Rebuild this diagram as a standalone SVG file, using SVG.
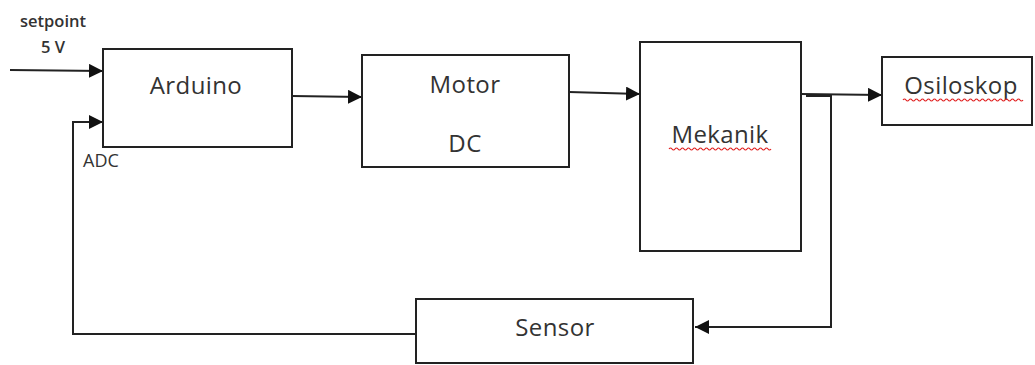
<svg xmlns="http://www.w3.org/2000/svg" width="1035" height="365" viewBox="0 0 1035 365">
<style>
.box{fill:#fff;stroke:#222;stroke-width:2}
.ln{fill:none;stroke:#222;stroke-width:2}
.t{font-family:"Open Sans","Noto Sans",sans-serif;fill:#333;font-size:24px;letter-spacing:0.4px;text-anchor:middle}
.s{font-family:"Open Sans","Noto Sans",sans-serif;fill:#333;font-size:16.5px;font-weight:600;text-anchor:middle}
.sq{fill:none;stroke:#e02020;stroke-width:1.2}
</style>
<defs>
<marker id="ah" viewBox="0 0 10 10" refX="10" refY="5" markerWidth="14" markerHeight="14" markerUnits="userSpaceOnUse" orient="auto">
<path d="M0,0 L10,5 L0,10 z" fill="#111"/>
</marker>
</defs>
<rect width="1035" height="365" fill="#fff"/>
<g id="connectors">
<path class="ln" d="M10,70 L103,71" marker-end="url(#ah)"/>
<path class="ln" d="M416,334 L73,334 L73,122 L103,122" marker-end="url(#ah)"/>
<path class="ln" d="M292,96 L362,97" marker-end="url(#ah)"/>
<path class="ln" d="M569,92 L640,94" marker-end="url(#ah)"/>
<path class="ln" d="M801,94 L882,95" marker-end="url(#ah)"/>
<path class="ln" d="M806,96 L831,96 L831,327 L695,327" marker-end="url(#ah)"/>
</g>
<g id="arduino">
<rect class="box" x="103" y="49" width="189" height="98"/>
<text class="t" x="196" y="94">Arduino</text>
</g>
<g id="motor">
<rect class="box" x="362" y="55" width="207" height="112"/>
<text class="t" x="465" y="93">Motor</text>
<text class="t" x="465" y="152">DC</text>
</g>
<g id="mekanik">
<rect class="box" x="640" y="42" width="161" height="209"/>
<text class="t" x="720" y="143">Mekanik</text>
<path class="sq" d="M669,149 q1.5,-2 3,0 t3,0 t3,0 t3,0 t3,0 t3,0 t3,0 t3,0 t3,0 t3,0 t3,0 t3,0 t3,0 t3,0 t3,0 t3,0 t3,0 t3,0 t3,0 t3,0 t3,0 t3,0 t3,0 t3,0 t3,0 t3,0 t3,0 t3,0 t3,0 t3,0 t3,0 t3,0 t3,0 t3,0"/>
</g>
<g id="osiloskop">
<rect class="box" x="882" y="57" width="150" height="68"/>
<text class="t" x="961" y="94">Osiloskop</text>
<path class="sq" d="M903,100 q1.5,-2 3,0 t3,0 t3,0 t3,0 t3,0 t3,0 t3,0 t3,0 t3,0 t3,0 t3,0 t3,0 t3,0 t3,0 t3,0 t3,0 t3,0 t3,0 t3,0 t3,0 t3,0 t3,0 t3,0 t3,0 t3,0 t3,0 t3,0 t3,0 t3,0 t3,0 t3,0 t3,0 t3,0 t3,0 t3,0 t3,0 t3,0 t3,0 t3,0 t3,0"/>
</g>
<g id="sensor">
<rect class="box" x="416" y="299" width="277" height="64"/>
<text class="t" x="555" y="336">Sensor</text>
</g>
<g id="labels">
<text class="s" x="53" y="27">setpoint</text>
<text class="s" x="53" y="53">5 V</text>
<text class="s" x="101" y="167" style="font-weight:400;font-size:18px">ADC</text>
</g>
</svg>
